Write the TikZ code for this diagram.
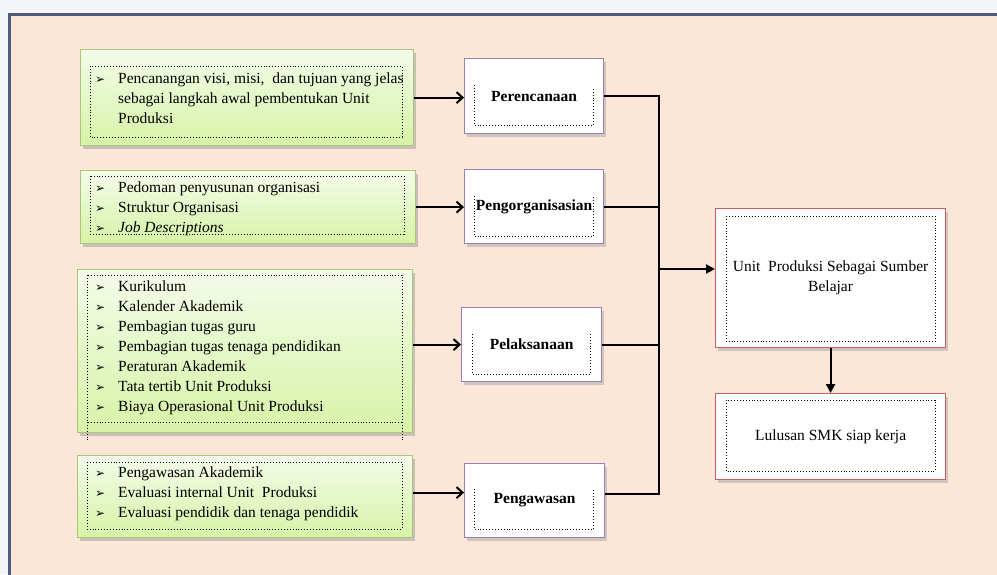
\documentclass[tikz,border=0pt]{standalone}
\usepackage{fontspec}
\setmainfont{Liberation Serif}
\newfontfamily\symfont{DejaVu Sans}
\usetikzlibrary{positioning}
\usetikzlibrary{calc}
\usetikzlibrary{arrows.meta}
\usetikzlibrary{shadows}

\definecolor{pagebg}{HTML}{F3F5F7}
\definecolor{framebg}{HTML}{FBE6D7}
\definecolor{frameline}{HTML}{4E5D77}
\definecolor{greenline}{HTML}{A8C878}
\definecolor{greentop}{HTML}{F4FBEA}
\definecolor{greenbot}{HTML}{D6F3A6}
\definecolor{purpleline}{HTML}{9A80B8}
\definecolor{redline}{HTML}{C9625F}

\newcommand{\bul}{\rule{0pt}{12pt}\makebox[23pt][l]{\symfont\fontsize{12}{12}\selectfont ➢}}

\begin{document}
\begin{tikzpicture}[
x=1pt, y=-1pt,
font=\fontsize{15.5}{20}\selectfont,
greenbox/.style={rectangle, draw=greenline, line width=1.2pt, top color=greentop,
bottom color=greenbot, anchor=north west,
drop shadow={shadow xshift=2pt, shadow yshift=-3pt, fill=black!40}},
procbox/.style={rectangle, draw=purpleline, line width=1.2pt, fill=white,
anchor=north west, align=center, font=\fontsize{15.5}{20}\selectfont\bfseries,
drop shadow={shadow xshift=2pt, shadow yshift=-3pt, fill=black!35}},
resbox/.style={procbox, draw=redline, font=\fontsize{15.5}{20}\selectfont},
listtext/.style={anchor=north west, align=left, inner sep=0pt},
dotbox/.style={dotted, line width=0.9pt},
link/.style={line width=2pt},
arrowlink/.style={link, -{Straight Barb[length=6pt,width=11pt]}},
filllink/.style={link, -{Triangle[length=9pt,width=9pt]}}
]

\useasboundingbox (0,0) rectangle (997,574);
\clip (0,0) rectangle (997,574);
\fill[pagebg] (0,0) rectangle (997,574);
\draw[frameline, line width=3pt, fill=framebg] (9.5,14.5) rectangle (1010,590);

%Green boxes
\node[greenbox, minimum width=333pt, minimum height=96pt] (goals) at (80,49) {};
\node[greenbox, minimum width=335pt, minimum height=73pt] (orgs) at (80,170) {};
\node[greenbox, minimum width=335pt, minimum height=163pt] (acts) at (77,269) {};
\node[greenbox, minimum width=335pt, minimum height=82pt] (checks) at (77,455) {};

\node[listtext] (goalstext) at (95,71) {\bul Pencanangan visi, misi,\ \ dan tujuan yang jelas\\
\hspace*{23pt}sebagai langkah awal pembentukan Unit\\
\hspace*{23pt}Produksi};
\node[listtext] (orgstext) at (95,180) {\bul Pedoman penyusunan organisasi\\
\bul Struktur Organisasi\\
\bul \textit{Job Descriptions}};
\node[listtext] (actstext) at (95,279) {\bul Kurikulum\\
\bul Kalender Akademik\\
\bul Pembagian tugas guru\\
\bul Pembagian tugas tenaga pendidikan\\
\bul Peraturan Akademik\\
\bul Tata tertib Unit Produksi\\
\bul Biaya Operasional Unit Produksi};
\node[listtext] (checkstext) at (95,465) {\bul Pengawasan Akademik\\
\bul Evaluasi internal Unit\ \ Produksi\\
\bul Evaluasi pendidik dan tenaga pendidik};

%Process boxes
\node[procbox, minimum width=139pt, minimum height=75pt] (plan) at (464,58) {Perencanaan};
\node[procbox, minimum width=139pt, minimum height=74pt] (organize) at (464,169) {Pengorganisasian};
\node[procbox, minimum width=140pt, minimum height=74pt] (execute) at (461,307) {Pelaksanaan};
\node[procbox, minimum width=140pt, minimum height=74pt] (watch) at (464,463) {Pengawasan};

%Result boxes
\node[resbox, minimum width=230pt, minimum height=139pt] (source) at (715,208) {Unit\ \ Produksi Sebagai Sumber\\Belajar};
\node[resbox, minimum width=230pt, minimum height=86pt] (graduate) at (715,393) {Lulusan SMK siap kerja};

%Dotted frames
\draw[dotbox] (90,66) rectangle (402,137);
\draw[dotbox] (90,176) rectangle (404,234);
\draw[dotbox] (87,275) rectangle (402,422);
\draw[dotbox] (87,422) -- (87,440) (402,422) -- (402,440);
\draw[dotbox] (87,462) rectangle (402,529);
\draw[dotbox] (474,85) |- (593,125) -- (593,87);
\draw[dotbox] (474,196) |- (593,236) -- (593,196);
\draw[dotbox] (472,334) |- (590,374) -- (590,334);
\draw[dotbox] (474,489) |- (593,529) -- (593,489);
\draw[dotbox] (726,216) rectangle (935,341);
\draw[dotbox] (726,400) rectangle (935,471);

%Coordinates
\coordinate (bus) at (659,0);
\coordinate (join) at (659,269);

%Lines
\draw[arrowlink] (goals.east) -- (goals.east -| plan.west);
\draw[arrowlink] (orgs.east) -- (orgs.east -| organize.west);
\draw[arrowlink] (execute.west -| acts.east) -- (execute.west);
\draw[arrowlink] ($(checks.east)+(0,-4)$) -- ($(checks.east -| watch.west)+(0,-4)$);

\draw[link] (plan.east) -- (plan.east -| bus) -- ($(watch.east -| bus)+(0,-7)$) -- ($(watch.east)+(0,-7)$);
\draw[link] (organize.east) -- (organize.east -| bus);
\draw[link] (execute.east) -- (execute.east -| bus);
\draw[filllink] (join) -- (join -| source.west);
\draw[filllink] (source.south) -- (graduate.north);

\end{tikzpicture}
\end{document}
